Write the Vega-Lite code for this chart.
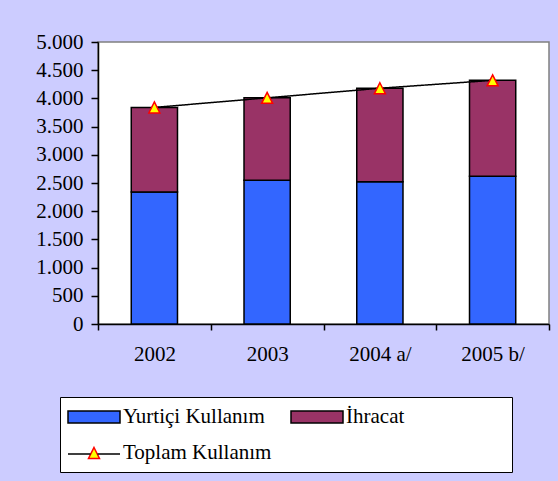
{
  "$schema": "https://vega.github.io/schema/vega-lite/v6.json",
  "width": 451,
  "height": 282,
  "autosize": {"type": "none"},
  "padding": {"left": 98, "top": 42, "right": 9, "bottom": 157},
  "background": "#CCCCFF",
  "config": {
    "locale": {"number": {"decimal": ",", "thousands": ".", "grouping": [3], "currency": ["", ""]}},
    "view": {"stroke": "#808080", "strokeWidth": 1.5, "fill": "white"},
    "font": "Liberation Serif",
    "axis": {"domainColor": "black", "tickColor": "black", "labelColor": "black", "labelFont": "Liberation Serif", "grid": false, "title": null, "domainWidth": 1.5, "tickWidth": 1.5},
    "legend": {"labelFont": "Liberation Serif", "labelFontSize": 21, "labelColor": "black"}
  },
  "encoding": {
    "x": {"field": "year", "type": "nominal", "sort": null, "scale": {"paddingInner": 0, "paddingOuter": 0},
          "axis": {"tickBand": "extent", "labelAngle": 0, "labelFontSize": 21, "tickSize": 6, "labelPadding": 13}},
    "y": {"field": "value", "type": "quantitative", "scale": {"domain": [0, 5000], "nice": false},
          "axis": {"values": [0, 500, 1000, 1500, 2000, 2500, 3000, 3500, 4000, 4500, 5000], "format": ",d", "labelFontSize": 21, "labelOverlap": false, "tickSize": 7, "labelPadding": 8}}
  },
  "layer": [
    {
      "data": {"values": [
        {"year": "2002", "series": "Yurtiçi Kullanım", "value": 2340},
        {"year": "2002", "series": "İhracat", "value": 1500},
        {"year": "2003", "series": "Yurtiçi Kullanım", "value": 2550},
        {"year": "2003", "series": "İhracat", "value": 1460},
        {"year": "2004 a/", "series": "Yurtiçi Kullanım", "value": 2520},
        {"year": "2004 a/", "series": "İhracat", "value": 1660},
        {"year": "2005 b/", "series": "Yurtiçi Kullanım", "value": 2620},
        {"year": "2005 b/", "series": "İhracat", "value": 1700}
      ]},
      "mark": {"type": "bar", "stroke": "black", "strokeWidth": 1.5, "width": {"band": 0.41}},
      "encoding": {
        "order": {"field": "series", "sort": "ascending"},
        "color": {"field": "series", "type": "nominal",
                  "scale": {"domain": ["Yurtiçi Kullanım", "İhracat", "Toplam Kullanım"], "range": ["#3366FF", "#993366", "#FFFF00"]},
                  "legend": {"orient": "none", "legendX": -38, "legendY": 355, "direction": "horizontal", "columns": 2, "title": null,
                             "fillColor": "white", "strokeColor": "black", "padding": 9, "symbolSize": 400, "symbolOffset": 14,
                             "labelOffset": 18, "columnPadding": 16, "rowPadding": 15,
                             "symbolStrokeWidth": 1.5, "labelLimit": 0, "symbolOpacity": 1}}
      }
    },
    {
      "data": {"values": [
        {"year": "2002", "series": "Toplam Kullanım", "value": 3840},
        {"year": "2003", "series": "Toplam Kullanım", "value": 4010},
        {"year": "2004 a/", "series": "Toplam Kullanım", "value": 4180},
        {"year": "2005 b/", "series": "Toplam Kullanım", "value": 4320}
      ]},
      "mark": {"type": "line", "color": "black", "strokeWidth": 1.5},
      "encoding": {
        "strokeDash": {"field": "series", "type": "nominal", "scale": {"domain": ["Toplam Kullanım"], "range": [[1, 0]]},
                       "legend": {"orient": "none", "legendX": -38, "legendY": 392, "title": null, "padding": 9, "symbolSize": 400,
                                  "symbolOffset": 14, "symbolType": "M-2.6,0H-0.35M0.35,0H2.6", "symbolStrokeColor": "black",
                                  "symbolStrokeWidth": 1.5, "symbolFillColor": "transparent", "labelExpr": "''",
                                  "fillColor": "transparent", "strokeColor": "transparent"}}
      }
    },
    {
      "data": {"values": [
        {"year": "2002", "series": "Toplam Kullanım", "value": 3840},
        {"year": "2003", "series": "Toplam Kullanım", "value": 4010},
        {"year": "2004 a/", "series": "Toplam Kullanım", "value": 4180},
        {"year": "2005 b/", "series": "Toplam Kullanım", "value": 4320}
      ]},
      "mark": {"type": "point", "filled": true, "size": 400, "strokeWidth": 1.5, "opacity": 1},
      "encoding": {
        "color": {"field": "series", "type": "nominal"},
        "shape": {"field": "series", "type": "nominal",
                  "scale": {"domain": ["Yurtiçi Kullanım", "İhracat", "Toplam Kullanım"],
                            "range": ["M-2.6,-0.6H2.6V0.6H-2.6Z", "M-2.6,-0.6H2.6V0.6H-2.6ZM18.3,0", "M0,-0.55L0.55,0.55H-0.55Z"]}},
        "stroke": {"field": "series", "type": "nominal",
                   "scale": {"domain": ["Yurtiçi Kullanım", "İhracat", "Toplam Kullanım"], "range": ["black", "black", "red"]}}
      }
    }
  ]
}
